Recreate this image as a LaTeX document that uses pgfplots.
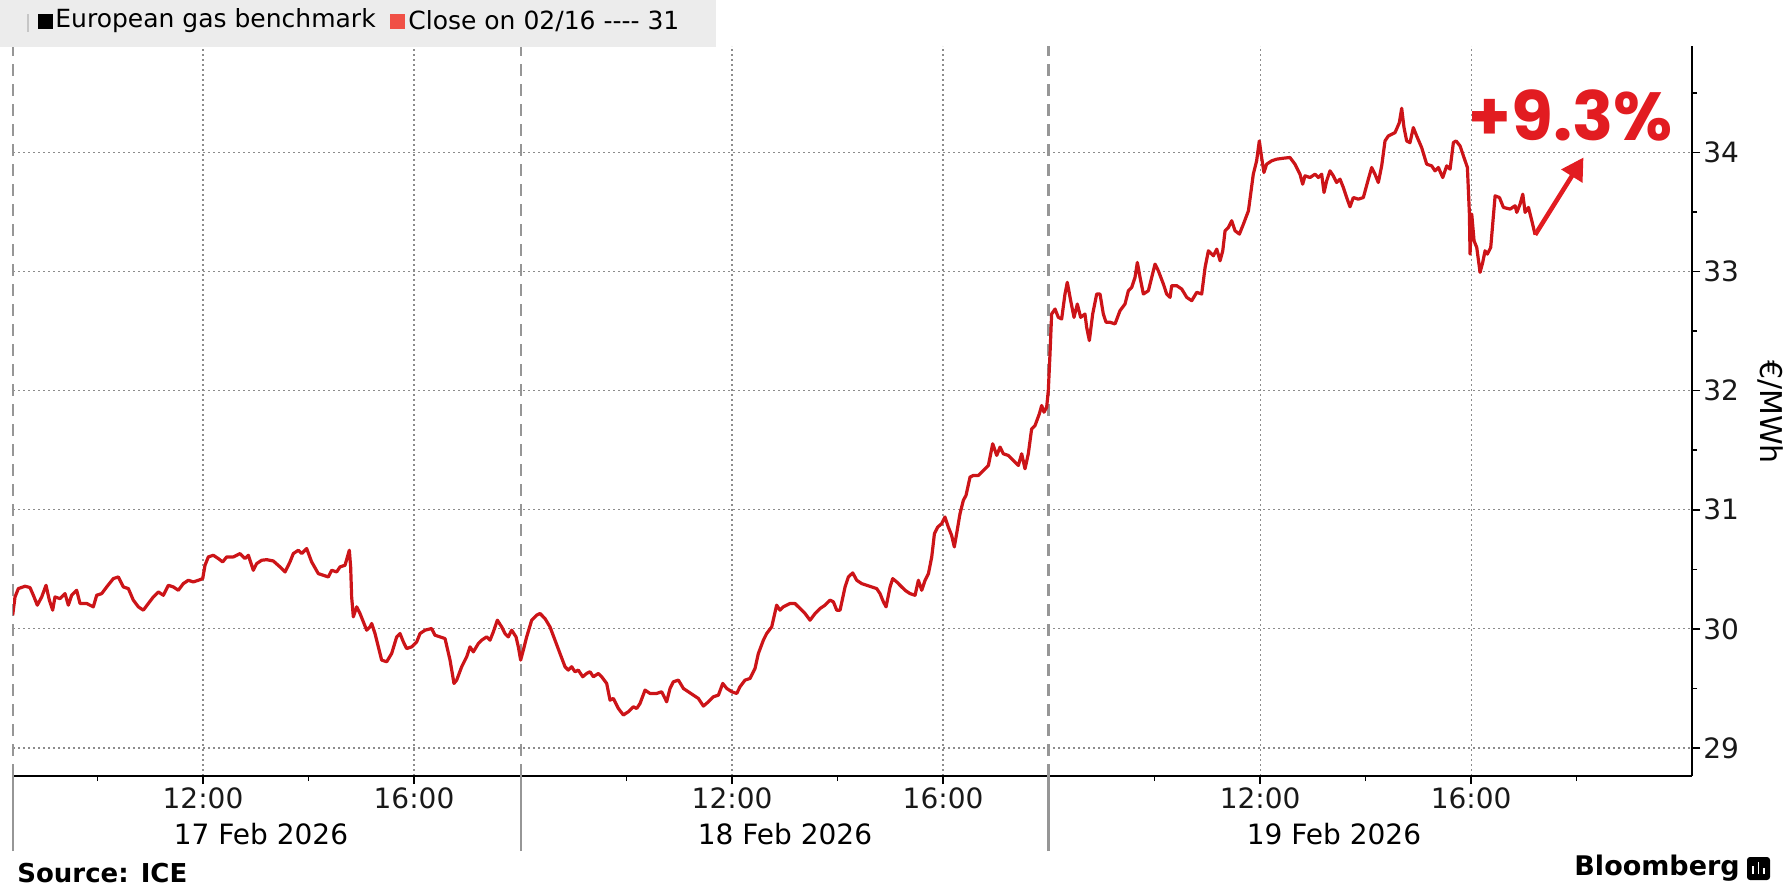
\documentclass[border=0pt]{standalone}
\usepackage{pgfplots}
\pgfplotsset{compat=1.18}
\usepackage{pgfplotstable}
\usepackage{fontspec}
\setmainfont{DejaVu Sans}
\newfontfamily\poppins{Poppins}
\usetikzlibrary{arrows.meta}
\definecolor{linered}{RGB}{204,20,24}
\definecolor{annred}{RGB}{226,28,33}
\definecolor{gridgray}{RGB}{140,140,140}
\definecolor{sepgray}{RGB}{150,150,150}
\definecolor{leggray}{RGB}{236,236,236}
\definecolor{legred}{RGB}{240,80,70}

\pgfplotstableread{
u v
8.392 30.115
8.436 30.268
8.499 30.338
8.626 30.358
8.720 30.347
8.784 30.282
8.859 30.199
8.942 30.268
9.024 30.366
9.087 30.241
9.150 30.157
9.194 30.268
9.289 30.254
9.384 30.296
9.447 30.199
9.510 30.282
9.605 30.324
9.668 30.213
9.795 30.213
9.921 30.185
9.984 30.282
10.079 30.296
10.174 30.352
10.300 30.422
10.395 30.436
10.490 30.352
10.585 30.338
10.679 30.241
10.774 30.185
10.869 30.157
10.964 30.213
11.058 30.268
11.153 30.310
11.248 30.282
11.343 30.366
11.438 30.352
11.532 30.324
11.627 30.380
11.722 30.408
11.817 30.394
11.912 30.408
11.994 30.422
12.038 30.534
12.101 30.604
12.196 30.618
12.291 30.590
12.373 30.562
12.449 30.604
12.575 30.604
12.701 30.632
12.796 30.590
12.859 30.618
12.954 30.492
13.017 30.548
13.112 30.576
13.207 30.581
13.333 30.570
13.460 30.520
13.555 30.478
13.649 30.562
13.712 30.632
13.807 30.660
13.870 30.632
13.965 30.674
14.060 30.562
14.186 30.464
14.281 30.450
14.376 30.436
14.439 30.492
14.534 30.478
14.597 30.520
14.692 30.534
14.774 30.660
14.799 30.520
14.818 30.268
14.850 30.101
14.913 30.185
14.976 30.129
15.040 30.059
15.103 29.989
15.166 30.017
15.198 30.045
15.261 29.961
15.324 29.849
15.387 29.738
15.482 29.724
15.577 29.794
15.672 29.933
15.735 29.961
15.798 29.891
15.861 29.835
15.956 29.849
16.051 29.891
16.114 29.961
16.209 29.989
16.335 30.003
16.398 29.947
16.493 29.933
16.588 29.919
16.683 29.738
16.758 29.542
16.809 29.570
16.904 29.682
16.999 29.766
17.062 29.849
17.125 29.807
17.220 29.877
17.283 29.905
17.378 29.933
17.441 29.905
17.504 29.975
17.580 30.073
17.662 30.017
17.725 29.961
17.788 29.933
17.852 29.989
17.934 29.933
17.978 29.849
18.022 29.738
18.072 29.821
18.136 29.933
18.231 30.073
18.325 30.115
18.389 30.129
18.483 30.087
18.578 30.017
18.673 29.905
18.768 29.793
18.863 29.682
18.926 29.654
18.989 29.682
19.052 29.640
19.115 29.654
19.198 29.598
19.274 29.626
19.337 29.640
19.400 29.598
19.495 29.626
19.558 29.598
19.653 29.542
19.716 29.402
19.779 29.416
19.874 29.332
19.969 29.277
20.064 29.305
20.159 29.346
20.222 29.332
20.285 29.374
20.380 29.486
20.474 29.458
20.601 29.458
20.696 29.472
20.790 29.388
20.854 29.500
20.917 29.556
21.012 29.570
21.107 29.500
21.202 29.472
21.296 29.444
21.391 29.416
21.486 29.352
21.581 29.388
21.676 29.430
21.771 29.444
21.853 29.542
21.929 29.500
22.024 29.472
22.119 29.458
22.180 29.514
22.275 29.570
22.370 29.584
22.465 29.668
22.528 29.793
22.623 29.905
22.686 29.961
22.781 30.017
22.875 30.199
22.939 30.157
23.002 30.185
23.129 30.213
23.223 30.213
23.318 30.171
23.413 30.129
23.508 30.073
23.603 30.129
23.697 30.171
23.792 30.199
23.887 30.241
23.950 30.227
24.014 30.157
24.077 30.157
24.172 30.352
24.235 30.436
24.317 30.470
24.393 30.408
24.488 30.380
24.582 30.366
24.677 30.352
24.772 30.338
24.835 30.296
24.898 30.227
24.949 30.185
25.025 30.352
25.075 30.422
25.151 30.394
25.214 30.366
25.309 30.324
25.404 30.296
25.499 30.282
25.562 30.408
25.625 30.324
25.689 30.408
25.752 30.464
25.815 30.604
25.866 30.799
25.929 30.855
26.003 30.883
26.066 30.939
26.129 30.855
26.192 30.785
26.243 30.688
26.287 30.799
26.351 30.967
26.414 31.079
26.465 31.121
26.541 31.274
26.604 31.288
26.699 31.288
26.794 31.330
26.889 31.372
26.971 31.554
27.047 31.456
27.110 31.526
27.172 31.470
27.267 31.456
27.362 31.414
27.457 31.372
27.520 31.470
27.583 31.344
27.646 31.470
27.709 31.679
27.773 31.707
27.855 31.805
27.899 31.875
27.943 31.819
27.994 31.861
28.025 32.001
28.057 32.308
28.088 32.643
28.152 32.685
28.215 32.615
28.278 32.601
28.341 32.811
28.385 32.909
28.449 32.755
28.512 32.615
28.575 32.727
28.638 32.615
28.720 32.643
28.752 32.532
28.803 32.420
28.866 32.643
28.942 32.811
29.005 32.811
29.068 32.643
29.119 32.574
29.195 32.574
29.290 32.560
29.384 32.671
29.479 32.727
29.543 32.839
29.606 32.867
29.669 32.951
29.713 33.076
29.764 32.951
29.827 32.811
29.922 32.839
29.985 32.951
30.048 33.062
30.111 33.006
30.206 32.895
30.269 32.811
30.333 32.783
30.364 32.881
30.459 32.881
30.554 32.853
30.649 32.783
30.744 32.755
30.839 32.825
30.933 32.811
30.997 33.034
31.060 33.174
31.155 33.132
31.218 33.188
31.281 33.090
31.332 33.174
31.376 33.342
31.439 33.370
31.502 33.426
31.565 33.342
31.648 33.314
31.724 33.398
31.819 33.510
31.911 33.817
31.974 33.929
32.025 34.096
32.069 33.957
32.113 33.831
32.164 33.901
32.259 33.929
32.354 33.943
32.480 33.951
32.606 33.957
32.701 33.901
32.796 33.817
32.847 33.733
32.891 33.803
32.986 33.789
33.081 33.817
33.144 33.789
33.207 33.817
33.252 33.663
33.302 33.761
33.365 33.845
33.428 33.803
33.491 33.747
33.555 33.775
33.618 33.705
33.681 33.621
33.744 33.543
33.807 33.621
33.902 33.607
33.997 33.621
34.092 33.775
34.155 33.873
34.218 33.817
34.281 33.747
34.345 33.887
34.408 34.096
34.471 34.138
34.598 34.166
34.680 34.250
34.724 34.370
34.768 34.208
34.819 34.096
34.882 34.082
34.945 34.208
35.008 34.138
35.103 34.040
35.198 33.901
35.293 33.887
35.356 33.845
35.420 33.873
35.502 33.789
35.578 33.887
35.641 33.859
35.704 34.082
35.755 34.096
35.831 34.054
35.894 33.971
35.970 33.873
36.008 33.482
36.020 33.146
36.052 33.482
36.096 33.258
36.147 33.202
36.210 32.993
36.260 33.076
36.305 33.174
36.349 33.146
36.412 33.202
36.495 33.635
36.577 33.621
36.653 33.538
36.780 33.524
36.874 33.552
36.906 33.496
36.969 33.566
37.020 33.649
37.064 33.496
37.128 33.538
37.191 33.426
37.254 33.308
}\gasdata

\begin{document}
\begin{tikzpicture}
\path[use as bounding box] (-6.5bp,-55bp) rectangle (889bp,388bp);
\begin{axis}[
  at={(0,0)}, anchor=south west,
  scale only axis, width=839.5bp, height=365bp,
  xmin=8.398, xmax=40.228, ymin=28.765, ymax=34.893,
  axis x line*=bottom, axis y line*=right,
  axis line style={black, line width=0.8bp},
  xtick={12,16,22.03,26.03,32.04,36.04},
  xticklabels={12:00,16:00,12:00,16:00,12:00,16:00},
  minor xtick={10,14,20.03,24.03,30.04,34.04,38.04},
  ytick={29,30,31,32,33,34},
  minor ytick={29.5,30.5,31.5,32.5,33.5,34.5},
  tick align=outside,
  major tick length=4bp, minor tick length=2.5bp,
  tick style={black, line width=0.8bp},
  xmajorgrids, ymajorgrids,
  major grid style={gridgray, line width=0.6bp, dash pattern=on 1bp off 1.5bp},
  extra x ticks={8.398,18.03,28.03},
  extra x tick labels={},
  extra x tick style={grid=major, major grid style={sepgray, line width=1.1bp, dash pattern=on 6bp off 4bp}, major tick length=37.5bp, tick style={sepgray, line width=1.1bp, solid}},
  tick label style={font=\fontsize{14bp}{16bp}\selectfont, text=black!90},
  xticklabel style={inner sep=1.5bp},
  yticklabel style={inner sep=1.5bp, anchor=west},
  /pgf/number format/assume math mode=true,
  clip mode=individual,
]
\addplot[linered, line width=1.6bp, line join=round, no marks] table[x=u, y=v] {\gasdata};
\addplot[annred, line width=2.3bp, -{Triangle[length=11bp,width=12bp]}, no marks] coordinates {(37.254,33.308) (38.17,33.957)};
\node[font=\poppins\bfseries\fontsize{34bp}{36bp}\selectfont, text=annred] at (axis cs:37.93,34.31) {+9.3\%};
\end{axis}
% legend box
\fill[leggray] (-6.5bp,364.5bp) rectangle (351.5bp,388bp);
\draw[gray!45, line width=0.6bp] (7.5bp,372bp) -- (7.5bp,381bp);
\fill[black] (12.5bp,373.5bp) rectangle (20bp,381bp);
\node[anchor=west, inner sep=0, font=\fontsize{12.5bp}{14bp}\selectfont] at (21bp,377.5bp) {European gas benchmark};
\fill[legred] (188.5bp,373.5bp) rectangle (196bp,381bp);
\node[anchor=west, inner sep=0, font=\fontsize{12.5bp}{14bp}\selectfont] at (197.5bp,377.5bp) {Close on 02/16 \mbox{-}\mbox{-}\mbox{-}\mbox{-} 31};
% date labels
\node[font=\fontsize{14bp}{16bp}\selectfont] at (124bp,-29bp) {17 Feb 2026};
\node[font=\fontsize{14bp}{16bp}\selectfont] at (386bp,-29bp) {18 Feb 2026};
\node[font=\fontsize{14bp}{16bp}\selectfont] at (660.5bp,-29bp) {19 Feb 2026};
% unit label
\node[rotate=-90, font=\fontsize{15bp}{17bp}\selectfont] at (878.5bp,182bp) {€/MWh};
% footer
\node[anchor=west, inner sep=0, font=\bfseries\fontsize{13bp}{15bp}\selectfont] at (2bp,-48.5bp) {Source: ICE};
\node[anchor=west, inner sep=0, font=\bfseries\fontsize{13.5bp}{15bp}\selectfont] at (780.5bp,-46bp) {Bloomberg};
\fill[black, rounded corners=1.5bp] (867bp,-52bp) rectangle (878.5bp,-40.5bp);
\draw[white, line width=0.8bp] (870bp,-49bp) -- (870bp,-45bp) (872.75bp,-49bp) -- (872.75bp,-43bp) (875.5bp,-49bp) -- (875.5bp,-46bp);
\end{tikzpicture}
\end{document}
